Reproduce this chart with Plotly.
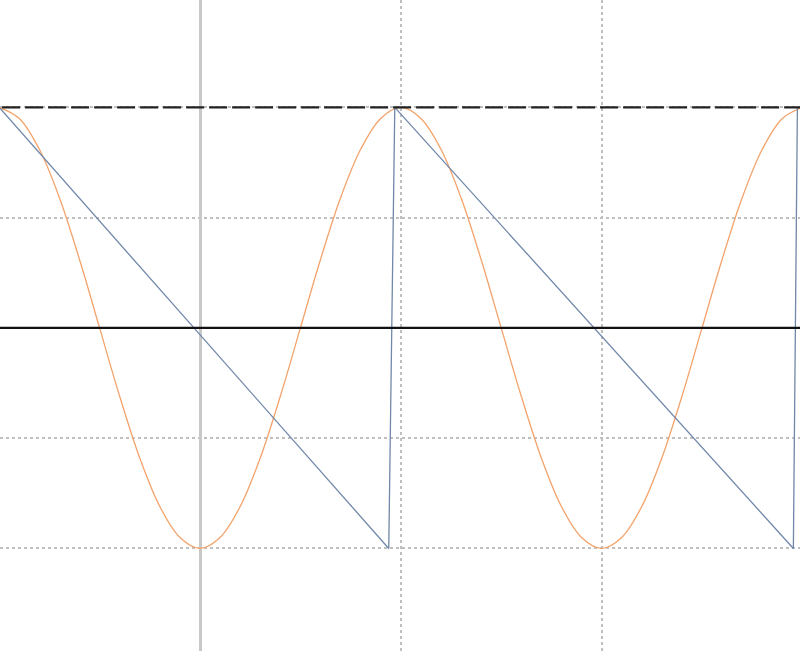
import plotly.graph_objects as go

# cosine-like curve, two full periods
cos_x = [-1.0, -0.9, -0.8, -0.7, -0.6, -0.5, -0.4, -0.3, -0.2, -0.1,
         0.0, 0.1, 0.2, 0.3, 0.4, 0.5, 0.6, 0.7, 0.8, 0.9,
         1.0, 1.1, 1.2, 1.3, 1.4, 1.5, 1.6, 1.7, 1.8, 1.9,
         2.0, 2.1, 2.2, 2.3, 2.4, 2.5, 2.6, 2.7, 2.8, 2.9, 3.0]
cos_y = [1.0, 0.95, 0.81, 0.59, 0.31, 0.0, -0.31, -0.59, -0.81, -0.95,
         -1.0, -0.95, -0.81, -0.59, -0.31, 0.0, 0.31, 0.59, 0.81, 0.95,
         1.0, 0.95, 0.81, 0.59, 0.31, 0.0, -0.31, -0.59, -0.81, -0.95,
         -1.0, -0.95, -0.81, -0.59, -0.31, 0.0, 0.31, 0.59, 0.81, 0.95, 1.0]

# sawtooth corners
saw_x = [-1.0, 0.94, 0.97, 2.955, 2.975]
saw_y = [1.0, -1.0, 1.0, -1.0, 1.0]

# reference lines
ref_x = [-1.1, 3.1]
top_y = [1.0, 1.0]
zero_y = [0.0, 0.0]

fig = go.Figure()
fig.add_trace(go.Scatter(x=cos_x, y=cos_y, mode='lines', line_shape='spline',
                         line=dict(color='#f3a36b', width=1.3)))
fig.add_trace(go.Scatter(x=saw_x, y=saw_y, mode='lines',
                         line=dict(color='#7088aa', width=1.3)))
fig.add_trace(go.Scatter(x=ref_x, y=zero_y, mode='lines',
                         line=dict(color='#111111', width=2.2)))
fig.add_trace(go.Scatter(x=ref_x, y=top_y, mode='lines',
                         line=dict(color='#222222', width=2.4, dash='18px,5px')))

fig.update_layout(
    width=800, height=651,
    showlegend=False,
    plot_bgcolor='white', paper_bgcolor='white',
    margin=dict(l=0, r=0, t=0, b=0),
    xaxis=dict(range=[-0.996, 2.988], dtick=1, showticklabels=False, ticks='',
               showgrid=True, gridcolor='#bfbfbf', griddash='dot', gridwidth=1.5,
               zeroline=True, zerolinecolor='#c8c8c8', zerolinewidth=3),
    yaxis=dict(range=[-1.465, 1.487], dtick=0.5, showticklabels=False, ticks='',
               showgrid=True, gridcolor='#bfbfbf', griddash='dot', gridwidth=1.5,
               zeroline=False),
)

# drop the default body margin so the plot fills the window
fig.write_html("out.html", config={'displayModeBar': False},
               post_script="document.body.style.margin='0';")
